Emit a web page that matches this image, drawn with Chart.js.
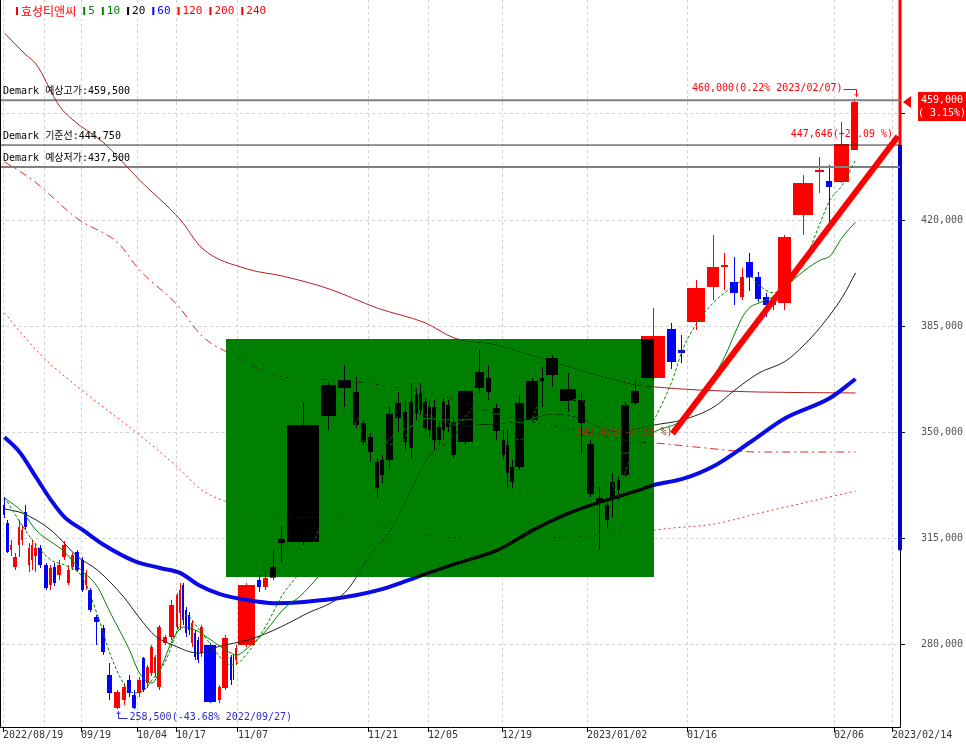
<!DOCTYPE html>
<html><head><meta charset="utf-8">
<script src="https://cdn.jsdelivr.net/npm/chart.js@4.4.1/dist/chart.umd.min.js"></script>
<style>html,body{margin:0;padding:0;background:#fff;overflow:hidden}canvas{display:block}</style>
</head><body>
<canvas id="c" width="966" height="744"></canvas>
<script>
// ---------------- DATA ----------------
const stockName = '효성티앤씨';
const dates = ['2022/08/19','2022/08/22','2022/08/23','2022/08/24','2022/08/25','2022/08/26','2022/08/29','2022/08/30','2022/08/31','2022/09/01','2022/09/02','2022/09/05','2022/09/06','2022/09/07','2022/09/08','2022/09/13','2022/09/14','2022/09/15','2022/09/16','2022/09/19','2022/09/20','2022/09/21','2022/09/22','2022/09/23','2022/09/26','2022/09/27','2022/09/28','2022/09/29','2022/09/30','2022/10/04','2022/10/05','2022/10/06','2022/10/07','2022/10/11','2022/10/12','2022/10/13','2022/10/14','2022/10/17','2022/10/18','2022/10/19','2022/10/20','2022/10/21','2022/10/24','2022/10/25','2022/10/26','2022/10/27','2022/10/28','2022/10/31','2022/11/01','2022/11/02','2022/11/03','2022/11/04','2022/11/07','2022/11/08','2022/11/09','2022/11/10','2022/11/11','2022/11/14','2022/11/15','2022/11/16','2022/11/17','2022/11/18','2022/11/21','2022/11/22','2022/11/23','2022/11/24','2022/11/25','2022/11/28','2022/11/29','2022/11/30','2022/12/01','2022/12/02','2022/12/05','2022/12/06','2022/12/07','2022/12/08','2022/12/09','2022/12/12','2022/12/13','2022/12/14','2022/12/15','2022/12/16','2022/12/19','2022/12/20','2022/12/21','2022/12/22','2022/12/23','2022/12/26','2022/12/27','2022/12/28','2022/12/29','2023/01/02','2023/01/03','2023/01/04','2023/01/05','2023/01/06','2023/01/09','2023/01/10','2023/01/11','2023/01/12','2023/01/13','2023/01/16','2023/01/17','2023/01/18','2023/01/19','2023/01/20','2023/01/25','2023/01/26','2023/01/27','2023/01/30','2023/01/31','2023/02/01','2023/02/02','2023/02/03','2023/02/06','2023/02/07'];

const open  = [325900,319900,311000,305400,312700,314300,323600,306100,307700,309100,311700,306100,299500,305400,302800,308700,300100,305400,310400,307700,299500,297800,288900,285300,269800,258900,261500,268100,263200,263800,275400,267100,270400,270400,265800,280300,282300,285600,290200,299500,291200,289600,280300,283600,281300,277000,279700,261500,265500,275700,274700,274700,279700,301100,298800,301800,313300,313700,355300,364500,363200,353000,348300,340100,335800,340800,354600,356600,344700,362200,362900,359900,350700,358300,351600,350700,351600,353300,346700,364500,367800,357900,347400,345700,333500,338400,354000,366800,368800,364200,360600,346000,328200,320900,328500,330800,335800,359600,367800,384000,377100,386300,397900,404500,399500,394600,406100,401200,394600,391900,392600,421700,435800,432900,432500,443100];
const high  = [328500,320900,314300,310000,320900,319300,325900,313300,314300,313300,312700,306700,306100,306700,307700,314000,306100,310000,311000,308700,304400,298500,289600,286300,273700,264800,267100,269800,264800,269100,275700,273100,279700,276400,286300,283000,294500,296800,300100,300100,292200,290600,287900,284600,282300,286300,280300,266500,283000,276400,276400,279700,300100,302800,304400,311000,318600,359900,366200,372100,368200,354000,349700,342400,342400,358300,363200,360600,366200,364500,366200,361200,360600,360600,354000,361200,360600,355000,363900,377100,372100,359200,350700,350700,340800,362200,367800,371500,375400,369500,362900,347400,331800,326600,336500,335100,359900,367200,390900,386000,382000,400200,415000,409100,407800,404200,409100,402800,395900,395200,415000,434900,440800,438200,452400,460000];
const low   = [321600,310000,309100,304400,308700,312700,317600,303800,304400,303800,305100,297800,297800,299100,301100,307700,299500,304400,303800,297200,297800,290600,279700,276400,261500,258500,259900,262500,258600,262500,264100,265500,269400,269100,264800,279700,281300,284600,284600,286300,282300,283000,279000,274700,273700,275700,260500,260500,264800,266500,268100,273100,279000,297200,297800,301100,307100,312700,350700,358300,351300,345700,340100,328200,333200,337500,350000,344100,341400,354000,355600,350000,348300,344100,345400,347400,350000,341400,345700,362900,360600,347400,340800,331500,331500,337500,353300,358300,364900,356600,343100,328500,311000,318300,321900,327500,335100,358900,367200,370800,372800,383700,393600,396900,391900,393600,396600,392900,388000,390300,390300,415000,428900,418300,432200,443100];
const close = [322600,310400,312700,308700,318600,317600,318600,311700,312700,311700,306100,298500,305100,300100,306100,312700,304400,309400,304400,297800,303400,291200,287300,277400,263800,264100,265800,263800,258900,268100,264800,272400,279000,275700,285600,282300,292900,296200,297800,287900,283600,284600,286900,275700,274700,285600,260800,265800,282000,268100,270700,278700,299500,298800,301800,305400,314700,352300,365500,367200,352300,346700,343400,331500,340800,355900,359600,346700,359900,356300,357300,351300,358300,347400,347400,359900,358900,342400,363500,369800,363200,350300,342400,336500,338400,359600,366800,367800,374400,360200,353000,329500,326600,325900,333500,334100,358900,363500,381700,373100,376100,397500,404500,405100,395900,401200,401200,393900,391900,394200,414400,432200,436500,430900,445000,459000];
// trading volume per session (relative, drives candle width: equivolume chart)
const vol = [3,4,3,5,3,3,4,3,3,4, 6,5,4,4,5,5,4,4,6,4, 3,6,7,6,7,8,5,5,5,5, 4,4,4,3,6,6,7,3,3,3, 3,3,3,3,3,4,14,4,8,3, 2,3,19,6,7,8,9,34,17,15, 8,7,7,5,6,9,8,6,6,4, 4,5,4,5,5,4,5,7,17,11, 7,9,4,4,5,11,14,6,14,18, 9,9,9,5,7,4,10,10,26,11, 9,20,14,9,10,6,9,8,8,7, 15,22,11,8,17,9];
const futureDates = ['2023/02/08','2023/02/09','2023/02/10','2023/02/13','2023/02/14'];
const futureVol = 8;

const tickDates  = ['2022/08/19','2022/09/19','2022/10/04','2022/10/17','2022/11/07','2022/11/21','2022/12/05','2022/12/19','2023/01/02','2023/01/16','2023/02/06','2023/02/14'];
const tickLabels = ['2022/08/19','09/19','10/04','10/17','11/07','11/21','12/05','12/19','2023/01/02','01/16','02/06','2023/02/14'];
const gridOnlyDates = ['2022/09/05'];
const yTicks = [280000,315000,350000,385000,420000,455000];
const yLabelled = [280000,315000,350000,385000,420000];

// moving averages: [candle number (1-based), price]
const ma5  = [[1,328500],[4,322600],[9,314300],[13,307700],[16,306100],[20,301800],[23,289600],[25,276400],[27,266500],[29,263800],[31,264800],[33,268100],[36,274700],[38,284600],[41,289600],[44,286300],[47,279700],[49,273700],[51,273100],[53,277000],[55,286300],[57,296200],[58,306100],[59,327500],[60,342400],[61,353900],[63,357300],[65,347400],[67,345700],[69,352300],[72,355600],[75,354000],[78,352300],[80,360600],[82,362200],[84,350700],[86,347400],[88,362200],[90,365500],[92,354000],[94,337500],[96,329200],[97,337500],[98,344100],[99,354000],[100,367200],[101,377100],[102,386000],[103,392900],[104,396200],[105,398500],[107,401200],[108,398500],[109,396600],[110,395900],[111,397500],[112,406100],[113,419300],[114,426600],[115,431600],[116,439800]];
const ma10 = [[1,328200],[6,323600],[10,317600],[16,310400],[19,305400],[23,298800],[25,290200],[28,278000],[30,270400],[33,267100],[35,271400],[37,281300],[40,285600],[44,284600],[47,281300],[49,278000],[52,276400],[53,278700],[55,284600],[57,291200],[58,297000],[60,315500],[62,331000],[64,342000],[66,348000],[69,352000],[72,354500],[76,354000],[79,354000],[82,356000],[86,353000],[89,358000],[91,361000],[93,352000],[95,344000],[97,343000],[99,350000],[101,354000],[102,359900],[103,368500],[104,375400],[105,382700],[106,388300],[107,391300],[108,392600],[110,394900],[111,397900],[112,403200],[113,406800],[114,408100],[115,414400],[116,419300]];
const ma20 = [[1,324600],[6,323200],[13,317600],[19,308700],[23,304400],[27,295200],[30,288600],[34,282600],[37,279700],[45,277000],[48,279300],[53,281300],[56,284600],[58,289600],[60,297200],[63,310000],[66,317600],[70,334800],[73,342400],[76,345700],[79,352000],[82,352600],[87,354600],[89,355900],[91,354300],[93,351300],[96,350000],[98,351000],[99,352300],[101,354000],[103,358300],[105,363900],[108,369500],[111,373400],[112,378700],[113,384700],[115,394600],[116,402500]];
const ma60 = [[1,348300],[5,343400],[10,335100],[13,327500],[16,321900],[20,317600],[24,312700],[29,307400],[35,305100],[39,303400],[45,299500],[48,296500],[53,294500],[56,293500],[58,293900],[60,295500],[65,298200],[70,302100],[78,306400],[82,311000],[87,317600],[90,323200],[93,326900],[98,330500],[99,332500],[101,334500],[103,338800],[107,346700],[111,354600],[114,361200],[116,367500]];
const ma120 = [[1,389300],[11,375400],[20,363500],[30,349000],[38,338400],[46,330800],[49,327000],[55,322300],[59,321600],[63,319300],[68,317300],[76,315300],[83,315000],[90,315300],[98,317000],[100,318300],[103,319600],[108,323200],[112,326600],[116,330500]];
const ma200 = [[1,439200],[9,433200],[19,420300],[26,412400],[30,403500],[38,391900],[46,381700],[52,374800],[55,369800],[57,368200],[59,367200],[62,366200],[69,363900],[75,362200],[79,359200],[84,355000],[88,352600],[91,350300],[98,346700],[99,346400],[102,345000],[108,343400],[116,343400]];
const ma240 = [[1,481700],[7,474500],[10,471500],[15,457600],[18,453000],[24,445400],[30,433200],[39,420000],[46,410700],[53,403800],[57,401500],[59,397200],[64,390900],[72,386000],[78,381000],[82,378700],[87,375100],[90,371500],[93,368500],[98,365500],[99,364900],[102,363900],[108,363200],[116,362900]];

const demarkHigh = 459500, demarkBase = 444750, demarkLow = 437500;
const boxFromDate = '2022/11/01', boxToDate = '2023/01/11', boxTop = 380700, boxBottom = 302100;
const trendFromDate = '2023/01/12', trendFrom = 349473, trendTo = 447646;
const trendStartText = '349,473(-0.53 %)';
const rangeLow = 311000;

// ---------------- LAYOUT HELPERS ----------------
const X_MIN = -3, X_MAX = 897, Y_MIN = 252600, Y_MAX = 492640;
const MONO = '"DejaVu Sans Mono", "Noto Sans CJK KR", monospace';
const lefts = []; let acc = 0;
vol.forEach(v => { lefts.push(acc); acc += v; });
const centers = lefts.map((l, i) => l + vol[i] / 2);
const futureLefts = []; futureDates.forEach(() => { futureLefts.push(acc); acc += futureVol; });
function posOf(d) { const i = dates.indexOf(d); return i >= 0 ? lefts[i] : futureLefts[futureDates.indexOf(d)]; }
const centerOf = d => centers[dates.indexOf(d)];
const xLabelMap = new Map(tickDates.map((d, i) => [posOf(d), tickLabels[i]]));
const gridOnlyVals = new Set(gridOnlyDates.map(posOf));
const xTickVals = [...xLabelMap.keys(), ...gridOnlyVals].sort((a, b) => a - b);
const fmt = v => Math.round(v).toLocaleString('en-US');
const toPts = arr => arr.map(([n, v]) => ({ x: centers[n - 1], y: v }));

const lastClose = close[close.length - 1], prevClose = close[close.length - 2];
const iMax = high.indexOf(Math.max(...high)), iMin = low.indexOf(Math.min(...low));

function line(label, data, color, width, dash, extra) {
  return Object.assign({ label, data, borderColor: color, borderWidth: width, borderDash: dash || [],
    pointRadius: 0, tension: 0, fill: false, borderCapStyle: 'butt', borderJoinStyle: 'round' }, extra || {});
}
const smooth = { cubicInterpolationMode: 'monotone' };
const datasets = [
  line('trend', [{ x: centerOf(trendFromDate), y: trendFrom }, { x: X_MAX - 2, y: trendTo }], '#ff0000', 6),
  line('5', toPts(ma5), '#008000', 1, [3, 2], smooth),
  line('10', toPts(ma10), '#008000', 1, [], smooth),
  line('20', toPts(ma20), '#202020', 1, [], smooth),
  line('60', toPts(ma60), '#0a0ae6', 4, [], smooth),
  line('120', toPts(ma120), '#ff3030', 1, [2, 3], smooth),
  line('200', toPts(ma200), '#e02828', 1, [8, 4, 2, 4], smooth),
  line('240', toPts(ma240), '#b42020', 1, [], smooth),
  line('dmH', [{ x: X_MIN, y: demarkHigh }, { x: X_MAX, y: demarkHigh }], '#808080', 2),
  line('dmB', [{ x: X_MIN, y: demarkBase }, { x: X_MAX, y: demarkBase }], '#303030', 1),
  line('dmL', [{ x: X_MIN, y: demarkLow }, { x: X_MAX, y: demarkLow }], '#808080', 2),
  line('rUp', [{ x: X_MAX, y: demarkBase }, { x: X_MAX, y: Y_MAX }], '#ff0000', 3, [], { clip: false }),
  line('rDn', [{ x: X_MAX, y: rangeLow }, { x: X_MAX, y: demarkBase }], '#0000c8', 4, [], { clip: false })
];

// ---------------- PLUGINS ----------------
const bgPlugin = { id: 'bg', beforeDraw(c) { const g = c.ctx; g.save(); g.fillStyle = '#fff'; g.fillRect(0, 0, c.width, c.height); g.restore(); } };

const candlePlugin = {
  id: 'candles',
  beforeDatasetsDraw(chart) {
    const { ctx, scales: { x, y }, chartArea: ca } = chart;
    ctx.save();
    ctx.beginPath(); ctx.rect(ca.left, ca.top, ca.width, ca.height); ctx.clip();
    for (let i = 0; i < dates.length; i++) {
      const col = close[i] >= open[i] ? '#ff0000' : '#0000ff';
      const xl = Math.round(x.getPixelForValue(lefts[i]));
      const xr = Math.round(x.getPixelForValue(lefts[i] + vol[i]));
      const slot = xr - xl;
      const bw = Math.max(1, slot - (slot <= 5 ? 1 : 2));
      const cx = xl + Math.floor(bw / 2);
      const yH = Math.round(y.getPixelForValue(high[i])), yL = Math.round(y.getPixelForValue(low[i]));
      const yO = y.getPixelForValue(open[i]), yC = y.getPixelForValue(close[i]);
      const t = Math.round(Math.min(yO, yC)), b = Math.round(Math.max(yO, yC));
      ctx.fillStyle = col;
      ctx.fillRect(cx, yH, 1, Math.max(1, yL - yH));
      ctx.fillRect(xl, t, bw, Math.max(1, b - t));
    }
    ctx.restore();
  }
};

const boxPlugin = {
  id: 'box',
  afterDatasetsDraw(chart) {
    const { ctx, scales: { x, y } } = chart;
    const x1 = Math.round(x.getPixelForValue(centerOf(boxFromDate)));
    const x2 = Math.round(x.getPixelForValue(centerOf(boxToDate)));
    const y1 = Math.round(y.getPixelForValue(boxTop));
    const y2 = Math.round(y.getPixelForValue(boxBottom));
    ctx.save();
    ctx.globalCompositeOperation = 'darken';
    ctx.fillStyle = '#008000';
    ctx.fillRect(x1, y1, x2 - x1, y2 - y1);
    ctx.restore();
  }
};

const annotPlugin = {
  id: 'annot',
  afterDraw(chart) {
    const { ctx, scales: { x, y }, chartArea: ca } = chart;
    ctx.save();
    ctx.strokeStyle = '#000'; ctx.lineWidth = 1;
    ctx.beginPath(); ctx.moveTo(ca.left + 0.5, ca.top); ctx.lineTo(ca.left + 0.5, ca.bottom); ctx.stroke();

    ctx.font = '10px ' + MONO; ctx.textBaseline = 'middle';
    ctx.fillStyle = '#000'; ctx.textAlign = 'left';
    [['Demark 예상고가:', demarkHigh], ['Demark 기준선:', demarkBase], ['Demark 예상저가:', demarkLow]].forEach(([t, v]) => {
      ctx.fillText(t + fmt(v), ca.left + 3, y.getPixelForValue(v) - 9);
    });

    const hx = Math.round(x.getPixelForValue(centers[iMax])) + 0.5;
    const hy = y.getPixelForValue(high[iMax]);
    const hty = Math.round(hy - 10) + 0.5;
    const hp = ((high[iMax] - lastClose) / lastClose * 100).toFixed(2);
    ctx.fillStyle = '#ff0000'; ctx.strokeStyle = '#ff0000'; ctx.textAlign = 'right';
    ctx.fillText(fmt(high[iMax]) + '(' + hp + '% ' + dates[iMax] + ')', hx - 14, hty - 1);
    ctx.beginPath(); ctx.moveTo(hx - 13, hty); ctx.lineTo(hx, hty); ctx.lineTo(hx, hy - 2); ctx.stroke();
    ctx.beginPath(); ctx.moveTo(hx - 2, hy - 4); ctx.lineTo(hx + 2, hy - 4); ctx.stroke();

    const lx = Math.round(x.getPixelForValue(centers[iMin])) + 0.5;
    const lyy = y.getPixelForValue(low[iMin]);
    const lty = Math.round(lyy + 9) + 0.5;
    const lp = ((low[iMin] - lastClose) / lastClose * 100).toFixed(2);
    ctx.fillStyle = '#2a2ad0'; ctx.strokeStyle = '#2a2ad0'; ctx.textAlign = 'left';
    ctx.fillText(fmt(low[iMin]) + '(' + lp + '% ' + dates[iMin] + ')', lx + 11, lty - 1);
    ctx.beginPath(); ctx.moveTo(lx, lyy + 2); ctx.lineTo(lx, lty); ctx.lineTo(lx + 9, lty); ctx.stroke();
    ctx.beginPath(); ctx.moveTo(lx - 2, lyy + 4); ctx.lineTo(lx + 2, lyy + 4); ctx.stroke();

    const tsx = x.getPixelForValue(centerOf(trendFromDate)), tsy = y.getPixelForValue(trendFrom);
    const tex = x.getPixelForValue(X_MAX - 2), tey = y.getPixelForValue(trendTo);
    ctx.textAlign = 'right';
    ctx.fillStyle = '#a02a10';
    ctx.fillText(trendStartText, tsx, tsy - 1);
    ctx.fillStyle = '#ff0000';
    const tp = ((trendTo / trendFrom - 1) * 100).toFixed(2);
    ctx.fillText(fmt(trendTo) + '(+' + tp + ' %)', tex - 5, tey - 2);

    const py = Math.round(y.getPixelForValue(lastClose));
    ctx.fillStyle = '#ff0000';
    ctx.beginPath(); ctx.moveTo(ca.right + 3, py); ctx.lineTo(ca.right + 11, py - 6); ctx.lineTo(ca.right + 11, py + 6); ctx.closePath(); ctx.fill();
    const bx = ca.right + 18;
    ctx.fillRect(bx, py - 10, chart.width - bx, 29);
    ctx.fillStyle = '#fff'; ctx.textAlign = 'center';
    const cp = ((lastClose - prevClose) / prevClose * 100).toFixed(2);
    ctx.fillText(fmt(lastClose), bx + 24, py - 2);
    ctx.fillText('( ' + cp + '%)', bx + 24, py + 11);

    const items = [[stockName, '#ff0000'], ['5', '#008000'], ['10', '#008000'], ['20', '#000000'], ['60', '#0000ff'], ['120', '#ff0000'], ['200', '#ff0000'], ['240', '#ff0000']];
    let gx = 16; const gy = 11;
    ctx.textAlign = 'left';
    items.forEach(([t, c], k) => {
      ctx.fillStyle = c;
      ctx.fillRect(gx, gy - 4, 2, 8);
      ctx.font = (k === 0 ? '12px "Noto Sans CJK KR"' : '11px ' + MONO);
      ctx.fillText(t, gx + 5, gy);
      gx += 5 + ctx.measureText(t).width + 7;
    });
    ctx.restore();
  }
};

// ---------------- CHART ----------------
new Chart(document.getElementById('c'), {
  type: 'line',
  data: { datasets },
  options: {
    responsive: false, animation: false, events: [],
    layout: { padding: 0, autoPadding: false },
    plugins: { legend: { display: false }, tooltip: { enabled: false } },
    scales: {
      x: {
        type: 'linear', position: 'bottom', min: X_MIN, max: X_MAX,
        afterFit(s) { s.height = 17; s.paddingLeft = 0; s.paddingRight = 0; },
        afterBuildTicks(s) { s.ticks = xTickVals.map(v => ({ value: v })); },
        grid: { color: '#d2d2d2', lineWidth: 1, drawTicks: true, tickLength: 5, tickWidth: 1,
          tickColor: c => (c.tick && gridOnlyVals.has(c.tick.value)) ? 'rgba(0,0,0,0)' : '#000' },
        border: { display: true, color: '#000', width: 1, dash: [3, 3] },
        ticks: { autoSkip: false, maxRotation: 0, minRotation: 0, align: 'start', padding: -3, color: '#333',
          font: { family: MONO, size: 10 }, callback: v => xLabelMap.get(v) || '' }
      },
      y: {
        type: 'linear', position: 'right', min: Y_MIN, max: Y_MAX,
        afterFit(s) { s.width = 66; s.paddingTop = 0; s.paddingBottom = 0; },
        afterBuildTicks(s) { s.ticks = yTicks.map(v => ({ value: v })); },
        grid: { color: '#d2d2d2', lineWidth: 1, drawTicks: true, tickLength: 5, tickColor: '#000' },
        border: { display: true, color: '#000', width: 1, dash: [3, 3] },
        ticks: { padding: 16, color: '#555', font: { family: MONO, size: 10 },
          callback: v => yLabelled.includes(v) ? fmt(v) : '' }
      }
    }
  },
  plugins: [bgPlugin, candlePlugin, boxPlugin, annotPlugin]
});
</script>
</body></html>
